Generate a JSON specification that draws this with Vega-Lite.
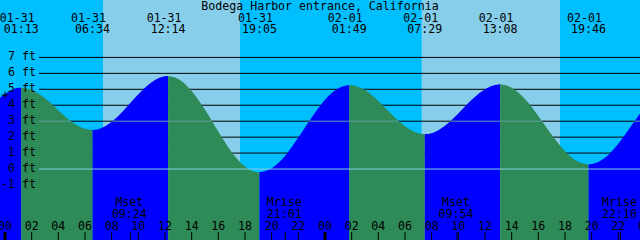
{
  "$schema": "https://vega.github.io/schema/vega-lite/v6.json",
  "width": 640,
  "height": 240,
  "padding": 0,
  "autosize": {"type": "none"},
  "background": "#00BFFF",
  "config": {
    "view": {"stroke": null},
    "axis": {"title": null},
    "text": {"font": "DejaVu Sans Mono", "fontSize": 11.6, "color": "black"}
  },
  "datasets": {
    "tide": [
      {"t": -2, "ft": 2.98, "seg": 0, "dir": "rising"},
      {"t": -1, "ft": 4.0, "seg": 0, "dir": "rising"},
      {"t": 0, "ft": 4.7, "seg": 0, "dir": "rising"},
      {"t": 1, "ft": 5.09, "seg": 0, "dir": "rising"},
      {"t": 1.217, "ft": 5.1, "seg": 0, "dir": "rising"},
      {"t": 1.217, "ft": 5.1, "seg": 1, "dir": "falling"},
      {"t": 2, "ft": 4.96, "seg": 1, "dir": "falling"},
      {"t": 3, "ft": 4.44, "seg": 1, "dir": "falling"},
      {"t": 4, "ft": 3.69, "seg": 1, "dir": "falling"},
      {"t": 5, "ft": 2.97, "seg": 1, "dir": "falling"},
      {"t": 6, "ft": 2.52, "seg": 1, "dir": "falling"},
      {"t": 6.567, "ft": 2.45, "seg": 1, "dir": "falling"},
      {"t": 6.567, "ft": 2.45, "seg": 2, "dir": "rising"},
      {"t": 7, "ft": 2.5, "seg": 2, "dir": "rising"},
      {"t": 8, "ft": 2.96, "seg": 2, "dir": "rising"},
      {"t": 9, "ft": 3.77, "seg": 2, "dir": "rising"},
      {"t": 10, "ft": 4.69, "seg": 2, "dir": "rising"},
      {"t": 11, "ft": 5.45, "seg": 2, "dir": "rising"},
      {"t": 12, "ft": 5.82, "seg": 2, "dir": "rising"},
      {"t": 12.233, "ft": 5.83, "seg": 2, "dir": "rising"},
      {"t": 12.233, "ft": 5.83, "seg": 3, "dir": "falling"},
      {"t": 13, "ft": 5.65, "seg": 3, "dir": "falling"},
      {"t": 14, "ft": 4.89, "seg": 3, "dir": "falling"},
      {"t": 15, "ft": 3.71, "seg": 3, "dir": "falling"},
      {"t": 16, "ft": 2.34, "seg": 3, "dir": "falling"},
      {"t": 17, "ft": 1.07, "seg": 3, "dir": "falling"},
      {"t": 18, "ft": 0.16, "seg": 3, "dir": "falling"},
      {"t": 19, "ft": -0.2, "seg": 3, "dir": "falling"},
      {"t": 19.083, "ft": -0.2, "seg": 3, "dir": "falling"},
      {"t": 19.083, "ft": -0.2, "seg": 4, "dir": "rising"},
      {"t": 20, "ft": 0.05, "seg": 4, "dir": "rising"},
      {"t": 21, "ft": 0.82, "seg": 4, "dir": "rising"},
      {"t": 22, "ft": 1.97, "seg": 4, "dir": "rising"},
      {"t": 23, "ft": 3.23, "seg": 4, "dir": "rising"},
      {"t": 24, "ft": 4.35, "seg": 4, "dir": "rising"},
      {"t": 25, "ft": 5.07, "seg": 4, "dir": "rising"},
      {"t": 25.817, "ft": 5.27, "seg": 4, "dir": "rising"},
      {"t": 25.817, "ft": 5.27, "seg": 5, "dir": "falling"},
      {"t": 26, "ft": 5.26, "seg": 5, "dir": "falling"},
      {"t": 27, "ft": 4.95, "seg": 5, "dir": "falling"},
      {"t": 28, "ft": 4.27, "seg": 5, "dir": "falling"},
      {"t": 29, "ft": 3.43, "seg": 5, "dir": "falling"},
      {"t": 30, "ft": 2.68, "seg": 5, "dir": "falling"},
      {"t": 31, "ft": 2.25, "seg": 5, "dir": "falling"},
      {"t": 31.483, "ft": 2.19, "seg": 5, "dir": "falling"},
      {"t": 31.483, "ft": 2.19, "seg": 6, "dir": "rising"},
      {"t": 32, "ft": 2.25, "seg": 6, "dir": "rising"},
      {"t": 33, "ft": 2.71, "seg": 6, "dir": "rising"},
      {"t": 34, "ft": 3.48, "seg": 6, "dir": "rising"},
      {"t": 35, "ft": 4.34, "seg": 6, "dir": "rising"},
      {"t": 36, "ft": 5.01, "seg": 6, "dir": "rising"},
      {"t": 37, "ft": 5.305, "seg": 6, "dir": "rising"},
      {"t": 37.133, "ft": 5.31, "seg": 6, "dir": "rising"},
      {"t": 37.133, "ft": 5.31, "seg": 7, "dir": "falling"},
      {"t": 38, "ft": 5.1, "seg": 7, "dir": "falling"},
      {"t": 39, "ft": 4.39, "seg": 7, "dir": "falling"},
      {"t": 40, "ft": 3.33, "seg": 7, "dir": "falling"},
      {"t": 41, "ft": 2.15, "seg": 7, "dir": "falling"},
      {"t": 42, "ft": 1.12, "seg": 7, "dir": "falling"},
      {"t": 43, "ft": 0.45, "seg": 7, "dir": "falling"},
      {"t": 43.767, "ft": 0.29, "seg": 7, "dir": "falling"},
      {"t": 43.767, "ft": 0.29, "seg": 8, "dir": "rising"},
      {"t": 44, "ft": 0.31, "seg": 8, "dir": "rising"},
      {"t": 45, "ft": 0.71, "seg": 8, "dir": "rising"},
      {"t": 46, "ft": 1.59, "seg": 8, "dir": "rising"},
      {"t": 47, "ft": 2.74, "seg": 8, "dir": "rising"},
      {"t": 48, "ft": 3.92, "seg": 8, "dir": "rising"}
    ],
    "extrema": [
      {"t": 1.217, "date": "01-31", "time": "01:13"},
      {"t": 6.567, "date": "01-31", "time": "06:34"},
      {"t": 12.233, "date": "01-31", "time": "12:14"},
      {"t": 19.083, "date": "01-31", "time": "19:05"},
      {"t": 25.817, "date": "02-01", "time": "01:49"},
      {"t": 31.483, "date": "02-01", "time": "07:29"},
      {"t": 37.133, "date": "02-01", "time": "13:08"},
      {"t": 43.767, "date": "02-01", "time": "19:46"}
    ],
    "daylight": [
      {"start": 7.35, "end": 17.625},
      {"start": 31.25, "end": 41.625}
    ],
    "levels": [
      {"ft": -1, "label": "-1 ft"},
      {"ft": 0, "label": "0 ft"},
      {"ft": 1, "label": "1 ft"},
      {"ft": 2, "label": "2 ft"},
      {"ft": 3, "label": "3 ft"},
      {"ft": 4, "label": "4 ft"},
      {"ft": 5, "label": "5 ft"},
      {"ft": 6, "label": "6 ft"},
      {"ft": 7, "label": "7 ft"}
    ],
    "hours": [
      {"t": 0, "label": "00"}, {"t": 2, "label": "02"}, {"t": 4, "label": "04"},
      {"t": 6, "label": "06"}, {"t": 8, "label": "08"}, {"t": 10, "label": "10"},
      {"t": 12, "label": "12"}, {"t": 14, "label": "14"}, {"t": 16, "label": "16"},
      {"t": 18, "label": "18"}, {"t": 20, "label": "20"}, {"t": 22, "label": "22"},
      {"t": 24, "label": "00"}, {"t": 26, "label": "02"}, {"t": 28, "label": "04"},
      {"t": 30, "label": "06"}, {"t": 32, "label": "08"}, {"t": 34, "label": "10"},
      {"t": 36, "label": "12"}, {"t": 38, "label": "14"}, {"t": 40, "label": "16"},
      {"t": 42, "label": "18"}, {"t": 44, "label": "20"}, {"t": 46, "label": "22"},
      {"t": 48, "label": "00"}
    ],
    "msl": [
      {"start": 2.55, "end": 4.957},
      {"start": 8.065, "end": 15.524},
      {"start": 22.816, "end": 29.541},
      {"start": 33.406, "end": 40.282},
      {"start": 47.21, "end": 47.625}
    ],
    "moon": [
      {"t": 9.4, "event": "Mset", "time": "09:24"},
      {"t": 21.017, "event": "Mrise", "time": "21:01"},
      {"t": 33.9, "event": "Mset", "time": "09:54"},
      {"t": 46.167, "event": "Mrise", "time": "22:10"}
    ],
    "now": [{"t": 0, "ft": 4.64}],
    "title": [{"label": "Bodega Harbor entrance, California"}]
  },
  "layer": [
    {
      "data": {"name": "daylight"},
      "mark": {"type": "rect", "color": "#87CEEB"},
      "encoding": {
        "x": {
          "field": "start", "type": "quantitative",
          "scale": {"domain": [-0.375, 47.625], "nice": false, "zero": false},
          "axis": null
        },
        "x2": {"field": "end"}
      }
    },
    {
      "data": {"name": "levels"},
      "transform": [{"filter": "datum.ft > 0"}],
      "mark": {"type": "rule", "color": "black", "strokeWidth": 1},
      "encoding": {
        "y": {
          "field": "ft", "type": "quantitative",
          "scale": {"domain": [-4.45, 10.6], "nice": false, "zero": false},
          "axis": null
        },
        "x": {"datum": 2.55, "type": "quantitative", "axis": null},
        "x2": {"datum": 47.625}
      }
    },
    {
      "data": {"name": "tide"},
      "mark": {"type": "area", "interpolate": "monotone", "clip": true},
      "encoding": {
        "x": {"field": "t", "type": "quantitative", "axis": null},
        "y": {"field": "ft", "type": "quantitative", "axis": null},
        "y2": {"datum": -4.45},
        "detail": {"field": "seg"},
        "color": {
          "field": "dir", "type": "nominal",
          "scale": {"domain": ["rising", "falling"], "range": ["#0000FF", "#2E8B57"]},
          "legend": null
        }
      }
    },
    {
      "data": {"name": "msl"},
      "mark": {"type": "rule", "color": "#5F9EA0", "strokeWidth": 1},
      "encoding": {
        "x": {"field": "start", "type": "quantitative", "axis": null},
        "x2": {"field": "end"},
        "y": {"datum": 3, "type": "quantitative", "axis": null}
      }
    },
    {
      "data": {"name": "levels"},
      "transform": [{"filter": "datum.ft === 0"}],
      "mark": {"type": "rule", "color": "#87CEEB", "strokeWidth": 1},
      "encoding": {
        "y": {"field": "ft", "type": "quantitative", "axis": null},
        "x": {"datum": 2.55, "type": "quantitative", "axis": null},
        "x2": {"datum": 47.625}
      }
    },
    {
      "data": {"name": "levels"},
      "mark": {"type": "text", "align": "right", "baseline": "alphabetic", "dy": 2.7},
      "encoding": {
        "y": {"field": "ft", "type": "quantitative", "axis": null},
        "x": {"value": 36},
        "text": {"field": "label"}
      }
    },
    {
      "data": {"name": "hours"},
      "mark": {"type": "rule", "color": "black"},
      "encoding": {
        "x": {"field": "t", "type": "quantitative", "axis": null},
        "y": {"value": 232},
        "y2": {"value": 240},
        "strokeWidth": {"condition": {"test": "datum.t % 24 === 0", "value": 3}, "value": 1}
      }
    },
    {
      "data": {"name": "moon"},
      "mark": {"type": "rule", "color": "black", "strokeWidth": 1},
      "encoding": {
        "x": {"field": "t", "type": "quantitative", "axis": null},
        "y": {"value": 232},
        "y2": {"value": 240}
      }
    },
    {
      "data": {"name": "hours"},
      "mark": {"type": "text", "align": "center", "baseline": "alphabetic"},
      "encoding": {
        "x": {"field": "t", "type": "quantitative", "axis": null},
        "y": {"value": 229.5},
        "text": {"field": "label"}
      }
    },
    {
      "data": {"name": "now"},
      "mark": {"type": "point", "shape": "M-1,0H1M0,-1V1", "size": 49, "filled": false, "stroke": "black", "strokeWidth": 1, "opacity": 1},
      "encoding": {
        "x": {"field": "t", "type": "quantitative", "axis": null},
        "y": {"field": "ft", "type": "quantitative", "axis": null}
      }
    },
    {
      "data": {"name": "extrema"},
      "mark": {"type": "text", "align": "center", "baseline": "alphabetic", "dx": -4},
      "encoding": {
        "x": {"field": "t", "type": "quantitative", "axis": null},
        "y": {"value": 21.5},
        "text": {"field": "date"}
      }
    },
    {
      "data": {"name": "extrema"},
      "mark": {"type": "text", "align": "center", "baseline": "alphabetic"},
      "encoding": {
        "x": {"field": "t", "type": "quantitative", "axis": null},
        "y": {"value": 33},
        "text": {"field": "time"}
      }
    },
    {
      "data": {"name": "moon"},
      "mark": {"type": "text", "align": "center", "baseline": "alphabetic", "dx": -1},
      "encoding": {
        "x": {"field": "t", "type": "quantitative", "axis": null},
        "y": {"value": 205.5},
        "text": {"field": "event"}
      }
    },
    {
      "data": {"name": "moon"},
      "mark": {"type": "text", "align": "center", "baseline": "alphabetic", "dx": -1},
      "encoding": {
        "x": {"field": "t", "type": "quantitative", "axis": null},
        "y": {"value": 218},
        "text": {"field": "time"}
      }
    },
    {
      "data": {"name": "title"},
      "mark": {"type": "text", "align": "center", "baseline": "alphabetic"},
      "encoding": {
        "x": {"value": 320},
        "y": {"value": 10},
        "text": {"field": "label"}
      }
    }
  ]
}
